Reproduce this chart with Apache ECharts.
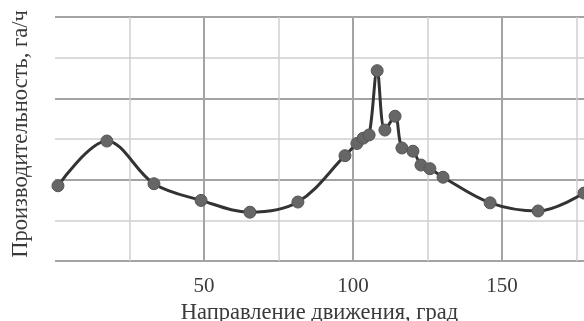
<!DOCTYPE html>
<html>
<head>
<meta charset="utf-8">
<script src="https://cdn.jsdelivr.net/npm/echarts@6/dist/echarts.min.js"></script>
<style>
  html, body { margin: 0; padding: 0; background: #fff; }
  #chart { width: 584px; height: 321px; }
</style>
</head>
<body>
<div id="chart"></div>
<script>
// Direction of travel (degrees) and productivity (ha/h) at each measured point
const directions = [1.0, 17.4, 33.2, 49.0, 65.4, 81.5, 97.3, 101.3, 103.4, 105.4, 108.1, 110.7, 114.1, 116.4, 120.1, 122.8, 125.8, 130.2, 146.0, 162.1, 177.5];
const productivity = [1.85, 2.95, 1.90, 1.49, 1.20, 1.45, 2.59, 2.89, 3.02, 3.10, 4.68, 3.22, 3.56, 2.78, 2.70, 2.36, 2.27, 2.06, 1.43, 1.23, 1.67];

const xLabels = [50, 100, 150];
const xTitle = 'Направление движения, град';
const yTitle = 'Производительность, га/ч';

const serif = '"Liberation Serif", "DejaVu Serif", serif';
const textColor = '#3a3a3a';
const minorColor = '#cfcfcf';
const majorColor = '#a3a3a3';
const X_MIN = 0, X_MAX = 177.5, Y_MIN = 0, Y_MAX = 6;

const points = directions.map((d, i) => [d, productivity[i]]);

const chart = echarts.init(document.getElementById('chart'), null, { renderer: 'canvas' });
chart.setOption({
  animation: false,
  backgroundColor: '#fff',
  grid: { left: 55, right: 0, top: 17, bottom: 60, containLabel: false, outerBoundsMode: 'none' },
  xAxis: [
    {
      // minor grid every 25 degrees
      type: 'value', min: X_MIN, max: X_MAX, interval: 25,
      axisLine: { show: false }, axisTick: { show: false }, axisLabel: { show: false },
      splitLine: { show: true, showMinLine: false, showMaxLine: false, lineStyle: { color: minorColor, width: 1.5 } }
    },
    {
      // major grid and labels every 50 degrees
      type: 'value', min: X_MIN, max: X_MAX, interval: 50, position: 'bottom',
      axisLine: { show: false }, axisTick: { show: false },
      axisLabel: {
        showMinLabel: false, showMaxLabel: false, margin: 15,
        fontFamily: serif, fontSize: 21, color: textColor,
        formatter: v => (xLabels.indexOf(v) >= 0 ? String(v) : '')
      },
      splitLine: { show: true, showMinLine: false, showMaxLine: false, lineStyle: { color: majorColor, width: 2 } },
      name: xTitle, nameLocation: 'middle', nameGap: 41,
      nameTextStyle: { fontFamily: serif, fontSize: 22.5, color: textColor }
    }
  ],
  yAxis: [
    {
      // minor grid every unit
      type: 'value', min: Y_MIN, max: Y_MAX, interval: 1,
      axisLine: { show: false }, axisTick: { show: false }, axisLabel: { show: false },
      splitLine: { show: true, lineStyle: { color: minorColor, width: 1.5 } }
    },
    {
      // major grid every two units
      type: 'value', min: Y_MIN, max: Y_MAX, interval: 2, position: 'left',
      axisLine: { show: false }, axisTick: { show: false }, axisLabel: { show: false },
      splitLine: { show: true, lineStyle: { color: majorColor, width: 2 } },
      name: yTitle, nameLocation: 'middle', nameGap: 22,
      nameTextStyle: { fontFamily: serif, fontSize: 22.5, color: textColor, padding: [0, 0, 0, 10] }
    }
  ],
  series: [{
    type: 'line',
    xAxisIndex: 1, yAxisIndex: 1,
    data: points,
    smooth: 0.35,
    symbol: 'circle', symbolSize: 12,
    lineStyle: { color: '#333', width: 3 },
    itemStyle: { color: '#666', borderColor: '#555', borderWidth: 1 },
    clip: false,
    z: 5
  }]
});
</script>
</body>
</html>
